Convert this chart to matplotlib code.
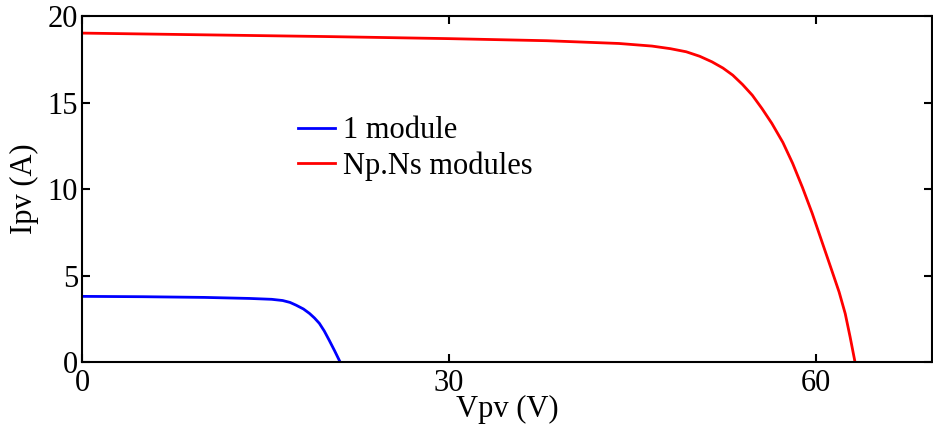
import matplotlib.pyplot as plt

plt.rcParams['font.family'] = ['Liberation Serif', 'DejaVu Serif']

# 1 module I-V curve
v_one = [0, 5, 10, 13.7, 15.5, 16.4, 17.0, 17.5, 18.1, 18.6, 19.0, 19.4, 19.8, 20.2, 20.65, 21.1]
i_one = [3.8, 3.78, 3.74, 3.68, 3.63, 3.56, 3.45, 3.29, 3.07, 2.81, 2.55, 2.24, 1.8, 1.27, 0.65, 0]

# Np.Ns modules I-V curve
v_arr = [0, 10, 20, 30, 38, 43.9, 46.6, 48.1, 49.4, 50.5, 51.5, 52.4, 53.2, 54.0,
         54.8, 55.6, 56.4, 57.3, 58.1, 58.9, 59.7, 60.5, 61.3, 61.9, 62.4, 62.8, 63.2]
i_arr = [19.02, 18.92, 18.82, 18.7, 18.58, 18.42, 18.27, 18.12, 17.94, 17.68,
         17.36, 17.0, 16.59, 16.05, 15.43, 14.65, 13.8, 12.7, 11.49, 10.1,
         8.6, 6.95, 5.3, 4.05, 2.8, 1.45, 0]

labels = ['1 module', 'Np.Ns modules']
x_ticks = [0, 30, 60]
y_ticks = [0, 5, 10, 15, 20]

fig = plt.figure(figsize=(9.33, 4.25), dpi=100)
ax = fig.add_axes([0.088, 0.148, 0.911, 0.814])

ax.plot(v_one, i_one, color='blue', lw=2, label=labels[0])
ax.plot(v_arr, i_arr, color='red', lw=2, label=labels[1])

ax.set_xlim(0, 69.5)
ax.set_ylim(0, 20)
ax.set_xticks(x_ticks)
ax.set_yticks(y_ticks)
ax.tick_params(direction='in', length=6, width=1.5, labelsize=22,
               top=True, right=True)
ax.tick_params(axis='x', pad=5)
ax.tick_params(axis='y', pad=3)
for s in ax.spines.values():
    s.set_linewidth(1.5)

ax.set_xlabel('Vpv (V)', fontsize=22, labelpad=-2)
ax.set_ylabel('Ipv (A)', fontsize=22, labelpad=6)

ax.legend(loc='upper left', bbox_to_anchor=(0.222, 0.79), frameon=False,
          fontsize=22, handlelength=1.2, handletextpad=0.25, labelspacing=0.2)

fig.savefig('out.png', dpi=100)
